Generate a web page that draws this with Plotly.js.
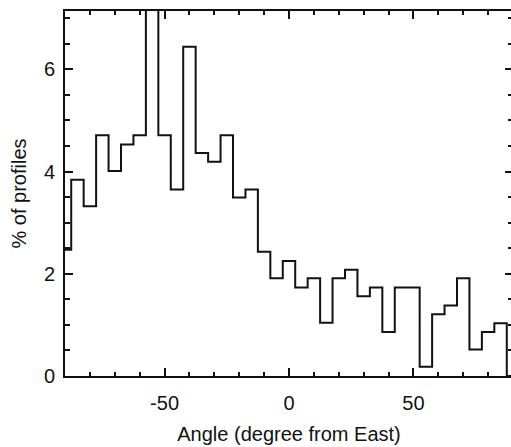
<!DOCTYPE html>
<html>
<head>
<meta charset="utf-8">
<script src="https://cdn.plot.ly/plotly-3.0.1.min.js"></script>
<style>
  html, body { margin: 0; padding: 0; overflow: hidden; background: #fff; }
  #chart { width: 522px; height: 447px; }
</style>
</head>
<body>
<div id="chart"></div>
<script>
// Bin centres (degrees from East), 5-degree bins
const angles = [-90, -85, -80, -75, -70, -65, -60, -55, -50, -45, -40, -35, -30, -25,
  -20, -15, -10, -5, 0, 5, 10, 15, 20, 25, 30, 35, 40, 45, 50, 55, 60, 65, 70, 75,
  80, 85, 90];

// Percentage of profiles in each bin
const percent = [2.47, 3.84, 3.32, 4.71, 4.01, 4.53, 4.71, 7.9, 4.71, 3.65, 6.44, 4.36,
  4.19, 4.71, 3.49, 3.65, 2.43, 1.91, 2.25, 1.73, 1.91, 1.04, 1.91, 2.08, 1.56, 1.73,
  0.86, 1.73, 1.73, 0.18, 1.21, 1.38, 1.91, 0.52, 0.86, 1.03, 0];

const xTickVals = [-50, 0, 50];
const xTickText = ['-50', '0', '50'];
const yTickVals = [0, 2, 4, 6];
const yTickText = ['0', '2', '4', '6'];

// Minor tick positions: every 10 degrees and every 0.5 %
function steps(from, to, step) {
  const out = [];
  for (let v = from; v <= to + 1e-9; v += step) out.push(+v.toFixed(3));
  return out;
}
const xMinor = steps(-90, 90, 10);
const yMinor = steps(0, 7, 0.5);

const ink = '#111';
const font = { family: 'Liberation Sans, Arial, Helvetica, sans-serif', size: 20, color: ink };

// Histogram drawn as a step line centred on each bin
const trace = {
  x: angles,
  y: percent,
  type: 'scatter',
  mode: 'lines',
  line: { shape: 'hvh', color: ink, width: 2 },
  hoverinfo: 'skip'
};

const axisCommon = {
  showgrid: false,
  zeroline: false,
  showline: true,
  linecolor: ink,
  linewidth: 2,
  mirror: 'ticks',
  ticks: 'inside',
  tickcolor: ink,
  tickwidth: 2,
  ticklen: 8,
  tickfont: font
};

const layout = {
  width: 522,
  height: 447,
  margin: { l: 65, r: 9, t: 11, b: 71 },
  paper_bgcolor: '#fff',
  plot_bgcolor: '#fff',
  showlegend: false,
  font: font,
  xaxis: Object.assign({}, axisCommon, {
    range: [-90, 90],
    tickmode: 'array',
    tickvals: xTickVals,
    ticktext: xTickText,
    ticklabelstandoff: 8,
    minor: { tickmode: 'array', tickvals: xMinor, ticks: 'inside', ticklen: 4, tickcolor: ink, tickwidth: 2 },
    title: { text: 'Angle (degree from East)', font: font, standoff: 14 }
  }),
  yaxis: Object.assign({}, axisCommon, {
    range: [0, 7.14],
    tickmode: 'array',
    tickvals: yTickVals,
    ticktext: yTickText,
    ticklabelstandoff: 4,
    minor: { tickmode: 'array', tickvals: yMinor, ticks: 'inside', ticklen: 5, tickcolor: ink, tickwidth: 2 },
    title: { text: '% of profiles', font: font, standoff: 12 }
  })
};

Plotly.newPlot('chart', [trace], layout, { displayModeBar: false, staticPlot: true });
</script>
</body>
</html>
